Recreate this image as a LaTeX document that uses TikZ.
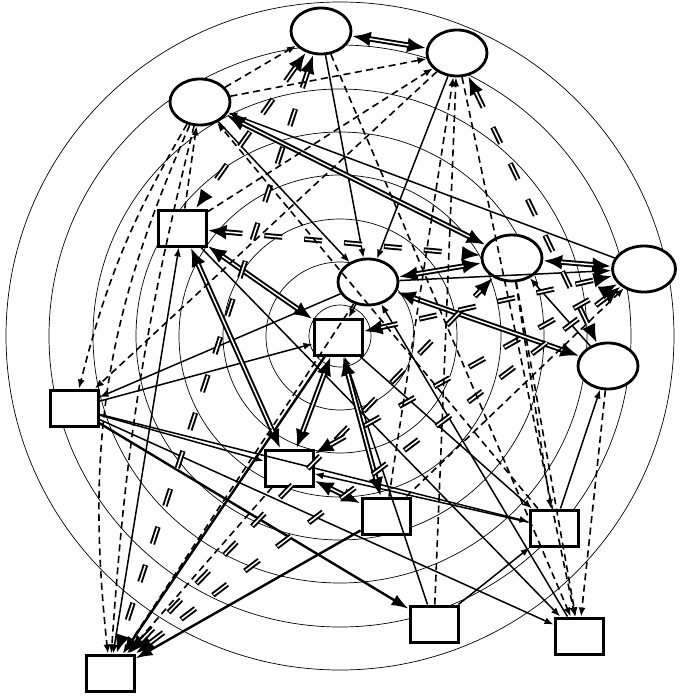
\documentclass[tikz,border=0pt]{standalone}
\usetikzlibrary{shapes.geometric,arrows.meta}
\begin{document}
\begin{tikzpicture}[x=1pt, y=-1pt, >={Latex[length=9pt,width=7pt]},
    oval/.style={draw, ellipse, line width=2.8pt, fill=white, minimum width=60pt, minimum height=46pt, inner sep=0pt},
    box/.style={draw, rectangle, line width=3pt, fill=white, minimum width=48pt, minimum height=36pt, inner sep=0pt},
    ring/.style={line width=0.7pt},
    plain/.style={line width=1.5pt, ->},
    dsh/.style={line width=1.6pt, dash pattern=on 7pt off 4.5pt, ->},
    thk/.style={line width=2.4pt, -{Latex[length=17pt,width=12pt]}},
    dblout/.style={line width=5.4pt, {Latex[length=19pt,width=15pt]}-{Latex[length=19pt,width=15pt]}},
    dblin/.style={draw=white, line width=1.5pt, shorten <=18pt, shorten >=18pt},
    gaps/.style={dash pattern=on 18pt off 22pt}]
    \useasboundingbox (0,0) rectangle (680,697);

    % rings
    \coordinate (ctr) at (340,336);
    \foreach \r in {31,74,117,161,204,247,291,334}
        \draw[ring] (ctr) circle (\r pt);

    % ellipses
    \node[oval] (E1) at (321,31) {};
    \node[oval] (E2) at (457,53) {};
    \node[oval] (E3) at (200,102) {};
    \node[oval] (E4) at (368,282) {};
    \node[oval] (E5) at (512,258) {};
    \node[oval, minimum width=63pt] (E6) at (644,269) {};
    \node[oval] (E7) at (608,366) {};

    % boxes
    \node[box] (B1) at (182,228) {};
    \node[box] (B2) at (338,337) {};
    \node[box] (B3) at (74,408) {};
    \node[box] (B4) at (289,468) {};
    \node[box] (B5) at (386,516) {};
    \node[box] (B6) at (554,528) {};
    \node[box] (B7) at (434,624) {};
    \node[box] (B8) at (579,636) {};
    \node[box] (B9) at (110,673) {};

    % solid links
    \foreach \a/\b in {E1/E4, E2/E4, E3/E4, E6/E3, E4/B2, E4/B3, B3/B2, B3/B4, B3/B6, B3/B8,
                       B6/E7, B7/B6, E7/E5, B6/B4, B8/E4, B2/B6, B7/B2, B1/B8}
        \draw[plain] (\a) -- (\b);
    \draw[plain, <->] (B1) -- (B9);
    \draw[plain, -{Latex[length=17pt,width=13pt]}] (E4) -- (E6);
    \draw[thk] (B3) -- (B7);
    \draw[thk] (B5) -- (B9);
    \draw[thk] (B2) -- (B9);

    % double links
    \foreach \a/\b in {E1/E2, E3/E5, E4/E5, E5/E6, E4/E7, B1/B4, B1/B2, B2/B4, B2/B5, B4/B5} {
        \draw[dblout] (\a) -- (\b);
        \draw[dblin] (\a) -- (\b);
    }

    % long dashed double links
    \foreach \a/\b in {E1/B1, E1/B9, E2/E7, B1/E5, B9/E5, B9/E6, B2/E6, B4/E6} {
        \draw[dblout, gaps] (\a) -- (\b);
        \draw[dblin, gaps] (\a) -- (\b);
    }

    % dashed links
    \foreach \a/\b in {E3/E1, E3/E2, B1/E2, E2/B3, B1/E3, B6/E3, E1/B8, B5/E2, B7/E2,
                       E2/B8, E7/B8, B5/E6, E5/B6, E5/B8, E4/B9, B4/B9}
        \draw[dsh] (\a) -- (\b);
    \draw[dsh] (E3) to[bend right=8] (B3);
    \draw[dsh] (E3) to[bend right=15] (B9);
    \draw[dsh] (E3) to[bend right=5] (B9);
\end{tikzpicture}
\end{document}
